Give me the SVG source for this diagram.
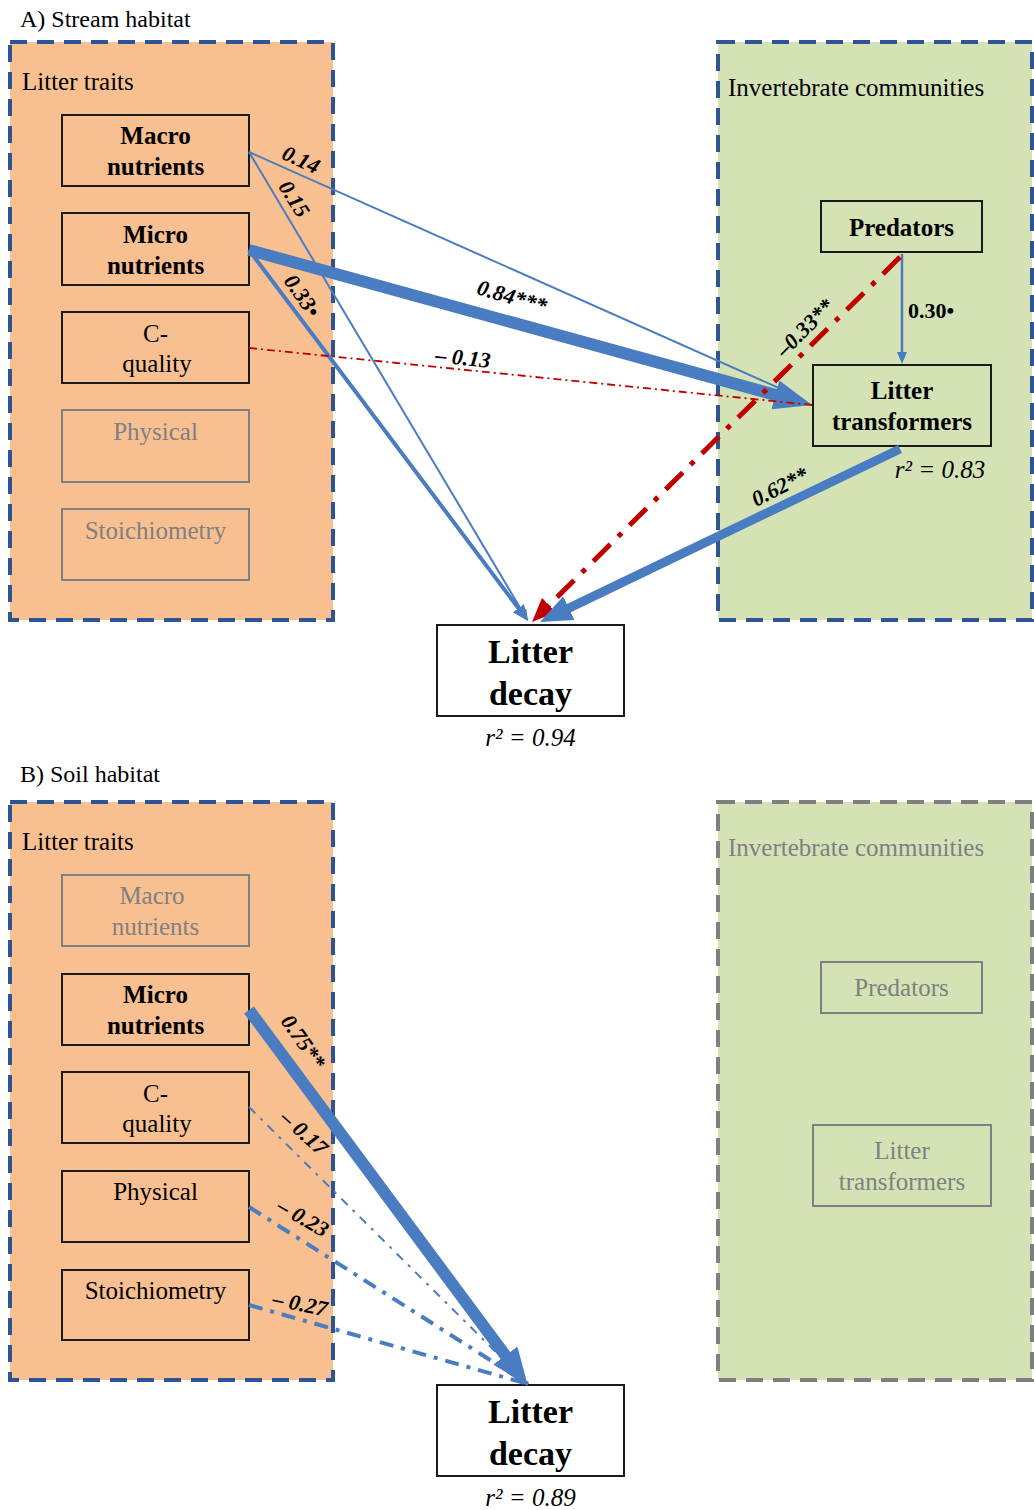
<svg xmlns="http://www.w3.org/2000/svg" width="1034" height="1510" viewBox="0 0 1034 1510">
<defs>
<style>
text{font-family:"Liberation Serif","Times New Roman",serif;fill:#000}
.title{font-size:24px}
.grp{font-size:25px}
.gray{fill:#808080}
.nb{font-size:25px;font-weight:bold}
.nr{font-size:25px}
.dec{font-size:34px;font-weight:bold}
.r2{font-size:25px;font-style:italic}
.lab{font-size:22px;font-weight:bold;font-style:italic}
.labn{font-size:22px;font-weight:bold}
.orange{fill:#F8BF90;stroke:#2F5496;stroke-width:4;stroke-dasharray:17 10}
.green{fill:#D4E2B6;stroke:#2F5496;stroke-width:4;stroke-dasharray:17 10}
.greeng{fill:#D4E2B6;stroke:#7F7F7F;stroke-width:4;stroke-dasharray:17 10}
.box{fill:none;stroke:#1a1a1a;stroke-width:2}
.boxg{fill:none;stroke:#808080;stroke-width:2}
.decbox{fill:#fff;stroke:#1a1a1a;stroke-width:2}
.bl{stroke:#4A7CC1;fill:none}
.rd{stroke:#C00000;fill:none}
</style>
<marker id="mBig" viewBox="0 0 38 30" refX="10" refY="15" markerWidth="38" markerHeight="30" markerUnits="userSpaceOnUse" orient="auto"><path d="M0,0 L38,15 L0,30 z" fill="#4A7CC1"/></marker>
<marker id="mMed" viewBox="0 0 32 26" refX="8" refY="13" markerWidth="32" markerHeight="26" markerUnits="userSpaceOnUse" orient="auto"><path d="M0,0 L32,13 L0,26 z" fill="#4A7CC1"/></marker>
<marker id="mSm" viewBox="0 0 12 10" refX="2" refY="5" markerWidth="12" markerHeight="10" markerUnits="userSpaceOnUse" orient="auto"><path d="M0,0 L12,5 L0,10 z" fill="#4A7CC1"/></marker>
<marker id="mSm2" viewBox="0 0 16 14" refX="3" refY="7" markerWidth="16" markerHeight="14" markerUnits="userSpaceOnUse" orient="auto"><path d="M0,0 L16,7 L0,14 z" fill="#4A7CC1"/></marker>
<marker id="mRed" viewBox="0 0 24 20" refX="6" refY="10" markerWidth="24" markerHeight="20" markerUnits="userSpaceOnUse" orient="auto"><path d="M0,0 L24,10 L0,20 z" fill="#C00000"/></marker>
</defs>
<rect width="1034" height="1510" fill="#fff"/>

<!-- Panel A -->
<text class="title" x="20" y="27">A) Stream habitat</text>
<g id="A-litter-traits">
<rect class="orange" x="10" y="42" width="323" height="578"/>
<text class="grp" x="22" y="90">Litter traits</text>
</g>
<g id="A-invertebrate-communities">
<rect class="green" x="718" y="42" width="314" height="578"/>
<text class="grp" x="728" y="96">Invertebrate communities</text>
</g>
<g id="A-macro"><rect class="box" x="62" y="115" width="187" height="71"/><text class="nb" x="155.5" y="144" text-anchor="middle">Macro</text><text class="nb" x="155.5" y="175" text-anchor="middle">nutrients</text></g>
<g id="A-micro"><rect class="box" x="62" y="213" width="187" height="72"/><text class="nb" x="155.5" y="243" text-anchor="middle">Micro</text><text class="nb" x="155.5" y="274" text-anchor="middle">nutrients</text></g>
<g id="A-cquality"><rect class="box" x="62" y="312" width="187" height="71"/><text class="nr" x="155.5" y="342" text-anchor="middle">C-</text><text class="nr" x="157" y="372" text-anchor="middle">quality</text></g>
<g id="A-physical"><rect class="boxg" x="62" y="410" width="187" height="72"/><text class="nr gray" x="155.5" y="440" text-anchor="middle">Physical</text></g>
<g id="A-stoich"><rect class="boxg" x="62" y="509" width="187" height="71"/><text class="nr gray" x="155.5" y="539" text-anchor="middle">Stoichiometry</text></g>
<g id="A-predators"><rect class="box" x="821" y="201" width="161" height="51"/><text class="nb" x="901.5" y="236" text-anchor="middle">Predators</text></g>
<g id="A-transformers"><rect class="box" x="813" y="365" width="178" height="81"/><text class="nb" x="902" y="399" text-anchor="middle">Litter</text><text class="nb" x="902" y="430" text-anchor="middle">transformers</text><text class="r2" x="940" y="478" text-anchor="middle">r² = 0.83</text></g>
<g id="A-decay"><rect class="decbox" x="437" y="625" width="187" height="91"/><text class="dec" x="530.5" y="663" text-anchor="middle">Litter</text><text class="dec" x="530.5" y="705" text-anchor="middle">decay</text><text class="r2" x="530.5" y="746" text-anchor="middle">r² = 0.94</text></g>

<g id="A-connectors">
<line class="bl" x1="249" y1="152" x2="790" y2="393" stroke-width="2"/>
<line class="bl" x1="249" y1="152" x2="522.9" y2="612.4" stroke-width="2" marker-end="url(#mSm)"/>
<line class="bl" x1="249" y1="250" x2="785" y2="397.6" stroke-width="12" marker-end="url(#mBig)"/>
<line class="bl" x1="249" y1="250" x2="520.2" y2="610.6" stroke-width="4" marker-end="url(#mSm2)"/>
<line class="rd" x1="249" y1="348" x2="812" y2="405" stroke-width="1.8" stroke-dasharray="8 4 2 4"/>
<line class="bl" x1="902" y1="254" x2="902" y2="354" stroke-width="2.5" marker-end="url(#mSm)"/>
<line class="rd" x1="900" y1="257" x2="544.8" y2="609.3" stroke-width="5" stroke-dasharray="24 11 5 11" marker-end="url(#mRed)"/>
<line class="bl" x1="900" y1="449" x2="561.6" y2="611.6" stroke-width="9" marker-end="url(#mMed)"/>
<text class="lab" transform="translate(301,160) rotate(25)" x="0" y="7" text-anchor="middle">0.14</text>
<text class="lab" transform="translate(294,199) rotate(58)" x="0" y="7" text-anchor="middle">0.15</text>
<text class="lab" transform="translate(302,296) rotate(55)" x="0" y="7" text-anchor="middle">0.33•</text>
<text class="lab" transform="translate(512,297) rotate(16)" x="0" y="7" text-anchor="middle">0.84***</text>
<text class="lab" transform="translate(463,358) rotate(6)" x="0" y="7" text-anchor="middle">– 0.13</text>
<text class="lab" transform="translate(805,328) rotate(-45)" x="0" y="7" text-anchor="middle">–0.33**</text>
<text class="labn" x="908" y="318">0.30•</text>
<text class="lab" transform="translate(780,487) rotate(-27)" x="0" y="7" text-anchor="middle">0.62**</text>
</g>

<!-- Panel B -->
<text class="title" x="20" y="782">B) Soil habitat</text>
<g id="B-litter-traits">
<rect class="orange" x="10" y="802" width="323" height="578"/>
<text class="grp" x="22" y="850">Litter traits</text>
</g>
<g id="B-invertebrate-communities">
<rect class="greeng" x="718" y="802" width="314" height="578"/>
<text class="grp gray" x="728" y="856">Invertebrate communities</text>
</g>
<g id="B-macro"><rect class="boxg" x="62" y="875" width="187" height="71"/><text class="nr gray" x="152" y="904" text-anchor="middle">Macro</text><text class="nr gray" x="155.5" y="935" text-anchor="middle">nutrients</text></g>
<g id="B-micro"><rect class="box" x="62" y="974" width="187" height="71"/><text class="nb" x="155.5" y="1003" text-anchor="middle">Micro</text><text class="nb" x="155.5" y="1034" text-anchor="middle">nutrients</text></g>
<g id="B-cquality"><rect class="box" x="62" y="1072" width="187" height="71"/><text class="nr" x="155.5" y="1102" text-anchor="middle">C-</text><text class="nr" x="157" y="1132" text-anchor="middle">quality</text></g>
<g id="B-physical"><rect class="box" x="62" y="1171" width="187" height="71"/><text class="nr" x="155.5" y="1200" text-anchor="middle">Physical</text></g>
<g id="B-stoich"><rect class="box" x="62" y="1270" width="187" height="70"/><text class="nr" x="155.5" y="1299" text-anchor="middle">Stoichiometry</text></g>
<g id="B-predators"><rect class="boxg" x="821" y="962" width="161" height="51"/><text class="nr gray" x="901.5" y="996" text-anchor="middle">Predators</text></g>
<g id="B-transformers"><rect class="boxg" x="813" y="1125" width="178" height="81"/><text class="nr gray" x="902" y="1159" text-anchor="middle">Litter</text><text class="nr gray" x="902" y="1190" text-anchor="middle">transformers</text></g>
<g id="B-decay"><rect class="decbox" x="437" y="1385" width="187" height="91"/><text class="dec" x="530.5" y="1423" text-anchor="middle">Litter</text><text class="dec" x="530.5" y="1465" text-anchor="middle">decay</text><text class="r2" x="530.5" y="1506" text-anchor="middle">r² = 0.89</text></g>

<g id="B-connectors">
<line class="bl" x1="249" y1="1107" x2="528" y2="1384" stroke-width="2" stroke-dasharray="9 7 3 7"/>
<line class="bl" x1="249" y1="1207" x2="528" y2="1384" stroke-width="4" stroke-dasharray="14 8 4 8"/>
<line class="bl" x1="249" y1="1305" x2="528" y2="1384" stroke-width="4" stroke-dasharray="14 8 4 8"/>
<line class="bl" x1="249" y1="1010" x2="511.3" y2="1363.5" stroke-width="12" marker-end="url(#mBig)"/>
<text class="lab" transform="translate(303,1042) rotate(55)" x="0" y="7" text-anchor="middle">0.75**</text>
<text class="lab" transform="translate(304,1133) rotate(42)" x="0" y="7" text-anchor="middle">– 0.17</text>
<text class="lab" transform="translate(303,1218) rotate(30)" x="0" y="7" text-anchor="middle">– 0.23</text>
<text class="lab" transform="translate(300,1304) rotate(12)" x="0" y="7" text-anchor="middle">– 0.27</text>
</g>
</svg>
